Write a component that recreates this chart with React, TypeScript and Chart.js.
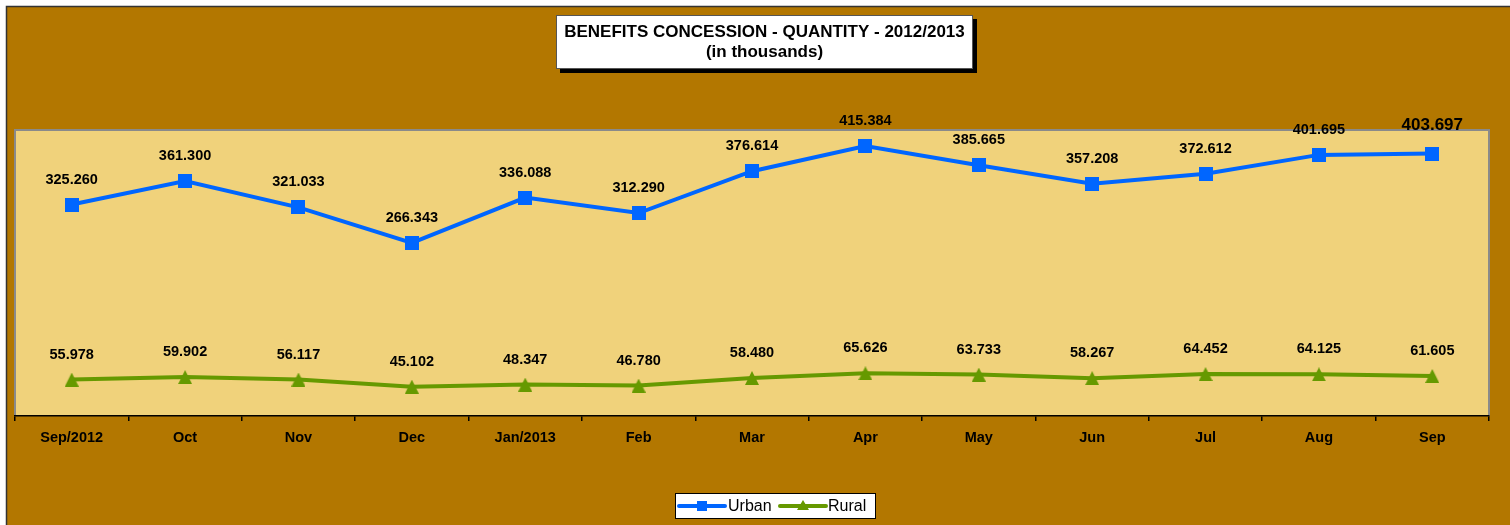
import React, { useEffect, useRef } from "react";
import { Chart, registerables } from "chart.js";

Chart.register(...registerables);

const categories = ["Sep/2012", "Oct", "Nov", "Dec", "Jan/2013", "Feb", "Mar", "Apr", "May", "Jun", "Jul", "Aug", "Sep"];
const urbanValues = [325.26, 361.3, 321.033, 266.343, 336.088, 312.29, 376.614, 415.384, 385.665, 357.208, 372.612, 401.695, 403.697];
const ruralValues = [55.978, 59.902, 56.117, 45.102, 48.347, 46.78, 58.48, 65.626, 63.733, 58.267, 64.452, 64.125, 61.605];
const seriesNames = ["Urban", "Rural"];
const titleLines = ["BENEFITS CONCESSION - QUANTITY - 2012/2013", "(in thousands)"];

const FONT = "'Liberation Sans', Arial, Helvetica, sans-serif";
const OUTER_BG = "#B37700";
const PLOT_BG = "#F0D27B";
const URBAN_COLOR = "#0066FF";
const RURAL_COLOR = "#669900";

function makeMarker(kind: string, color: string, size: number) {
  const c = document.createElement("canvas");
  c.width = size;
  c.height = size;
  const g = c.getContext("2d")!;
  g.fillStyle = color;
  if (kind === "rect") {
    g.fillRect(0, 0, size, size);
  } else {
    g.beginPath();
    g.moveTo(size / 2, 0);
    g.lineTo(size, size);
    g.lineTo(0, size);
    g.closePath();
    g.fill();
  }
  return c;
}

const decorPlugin = {
  id: "decor",
  beforeDraw(chart: any) {
    const { ctx, width, height, chartArea } = chart;
    ctx.save();
    ctx.fillStyle = "#FFFFFF";
    ctx.fillRect(0, 0, width, height);
    ctx.fillStyle = OUTER_BG;
    ctx.fillRect(6, 6, width - 6, height - 6);
    ctx.strokeStyle = "#333333";
    ctx.lineWidth = 1.5;
    ctx.beginPath();
    ctx.moveTo(6.5, height);
    ctx.lineTo(6.5, 6.5);
    ctx.lineTo(width, 6.5);
    ctx.stroke();
    ctx.fillStyle = PLOT_BG;
    ctx.fillRect(chartArea.left, chartArea.top, chartArea.right - chartArea.left, chartArea.bottom - chartArea.top);
    ctx.strokeStyle = "#8A8A8A";
    ctx.lineWidth = 2;
    ctx.beginPath();
    ctx.moveTo(chartArea.left, chartArea.bottom);
    ctx.lineTo(chartArea.left, chartArea.top);
    ctx.lineTo(chartArea.right, chartArea.top);
    ctx.lineTo(chartArea.right, chartArea.bottom);
    ctx.stroke();
    ctx.restore();
  },
  afterDatasetsDraw(chart: any) {
    const { ctx } = chart;
    ctx.save();
    ctx.fillStyle = "#000000";
    ctx.textAlign = "center";
    ctx.textBaseline = "middle";
    chart.data.datasets.forEach((ds: any, di: number) => {
      const meta = chart.getDatasetMeta(di);
      meta.data.forEach((pt: any, i: number) => {
        const last = di === 0 && i === ds.data.length - 1;
        ctx.font = `bold ${last ? 17 : 14.5}px ${FONT}`;
        const off = last ? 28 : 25;
        ctx.fillText(Number(ds.data[i]).toFixed(3), pt.x, pt.y - off);
      });
    });
    ctx.restore();
  },
  afterDraw(chart: any) {
    const { ctx } = chart;
    ctx.save();
    const bx = 556, by = 15, bw = 417, bh = 54;
    ctx.fillStyle = "#000000";
    ctx.fillRect(bx + 4, by + 4, bw, bh);
    ctx.fillStyle = "#FFFFFF";
    ctx.fillRect(bx, by, bw, bh);
    ctx.strokeStyle = "#555555";
    ctx.lineWidth = 1;
    ctx.strokeRect(bx + 0.5, by + 0.5, bw - 1, bh - 1);
    ctx.fillStyle = "#000000";
    ctx.textAlign = "center";
    ctx.textBaseline = "middle";
    ctx.font = `bold 17px ${FONT}`;
    ctx.fillText(titleLines[0], bx + bw / 2, 32);
    ctx.fillText(titleLines[1], bx + bw / 2, 52);

    const lx = 675, ly = 493, lw = 201, lh = 26;
    ctx.fillStyle = "#FFFFFF";
    ctx.fillRect(lx, ly, lw, lh);
    ctx.strokeStyle = "#000000";
    ctx.lineWidth = 1;
    ctx.strokeRect(lx + 0.5, ly + 0.5, lw - 1, lh - 1);
    const cy = 506;
    const items = [
      { x0: 679, x1: 725, tx: 728, color: URBAN_COLOR, style: "rect" },
      { x0: 780, x1: 826, tx: 828, color: RURAL_COLOR, style: "triangle" },
    ];
    items.forEach((it, k) => {
      ctx.strokeStyle = it.color;
      ctx.lineWidth = 4;
      ctx.lineCap = "round";
      ctx.beginPath();
      ctx.moveTo(it.x0, cy);
      ctx.lineTo(it.x1, cy);
      ctx.stroke();
      ctx.fillStyle = it.color;
      const mx = (it.x0 + it.x1) / 2;
      if (it.style === "rect") {
        ctx.fillRect(mx - 5, cy - 5, 10, 10);
      } else {
        ctx.beginPath();
        ctx.moveTo(mx, cy - 6);
        ctx.lineTo(mx + 6, cy + 4);
        ctx.lineTo(mx - 6, cy + 4);
        ctx.closePath();
        ctx.fill();
      }
      ctx.fillStyle = "#000000";
      ctx.textAlign = "left";
      ctx.font = `16px ${FONT}`;
      ctx.fillText(seriesNames[k], it.tx, cy + 1);
    });
    ctx.restore();
  },
};

export default function App() {
  const ref = useRef<HTMLCanvasElement | null>(null);
  useEffect(() => {
    document.body.style.margin = "0";
    if (!ref.current) return;
    const squareMarker = makeMarker("rect", URBAN_COLOR, 14);
    const triMarker = makeMarker("triangle", RURAL_COLOR, 14);
    const chart = new Chart(ref.current, {
      type: "line",
      data: {
        labels: categories,
        datasets: [
          {
            label: seriesNames[0],
            data: urbanValues,
            borderColor: URBAN_COLOR,
            backgroundColor: URBAN_COLOR,
            borderWidth: 4,
            pointStyle: squareMarker as any,
            pointRadius: 7,
            tension: 0,
            clip: false as any,
          },
          {
            label: seriesNames[1],
            data: ruralValues,
            borderColor: RURAL_COLOR,
            backgroundColor: RURAL_COLOR,
            borderWidth: 4,
            pointStyle: triMarker as any,
            pointRadius: 7,
            tension: 0,
            clip: false as any,
          },
        ],
      },
      options: {
        responsive: false,
        animation: false,
        devicePixelRatio: 1,
        layout: { padding: { left: 15, right: 21, top: 130, bottom: 0 } },
        plugins: {
          legend: { display: false },
          title: { display: false },
          tooltip: { enabled: false },
        },
        scales: {
          x: {
            type: "category",
            offset: true,
            afterFit: (scale: any) => {
              scale.height = 109;
            },
            grid: {
              display: true,
              drawOnChartArea: false,
              drawTicks: true,
              tickLength: 5,
              offset: true,
              color: "#000000",
              lineWidth: 1.5,
            },
            border: { display: true, color: "#000000", width: 1.5 },
            ticks: {
              color: "#000000",
              font: { family: FONT, size: 14.5, weight: "bold" },
              padding: 8,
              maxRotation: 0,
              autoSkip: false,
            },
          },
          y: {
            display: false,
            min: 0,
            max: 440,
          },
        },
      },
      plugins: [decorPlugin],
    });
    return () => chart.destroy();
  }, []);
  return <canvas ref={ref} width={1510} height={525} style={{ display: "block" }} />;
}
